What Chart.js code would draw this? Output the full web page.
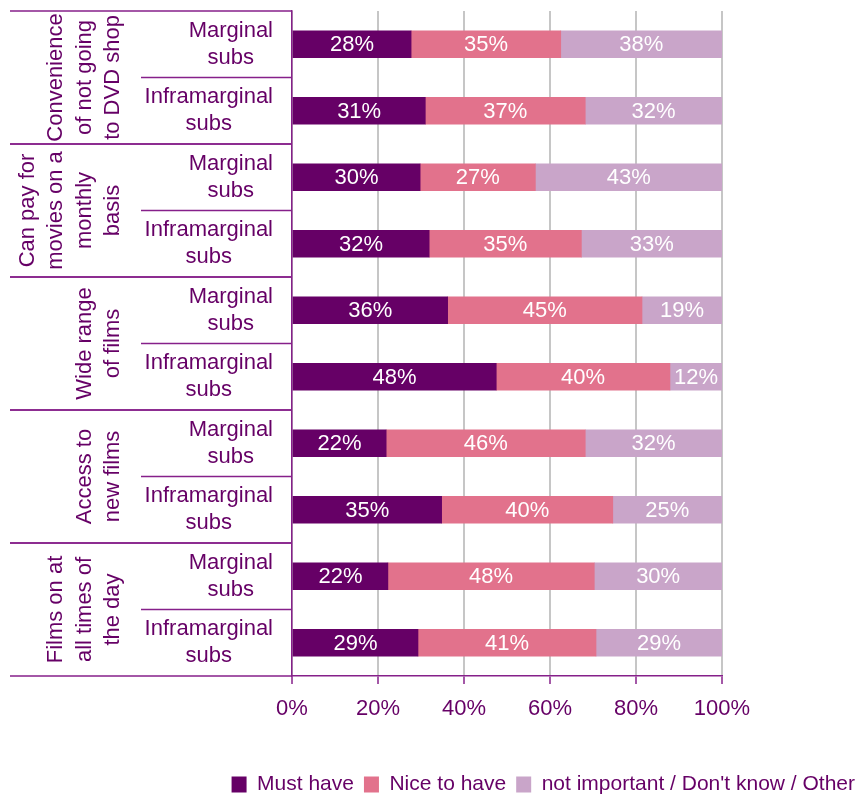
<!DOCTYPE html>
<html>
<head>
<meta charset="utf-8">
<script src="https://cdn.jsdelivr.net/npm/chart.js@4/dist/chart.umd.min.js"></script>
<style>
  html, body { margin: 0; padding: 0; background: #fff; }
  #wrap { width: 859px; height: 797px; }
</style>
</head>
<body>
<div id="wrap"><canvas id="subsChart" width="859" height="797"></canvas></div>
<script>
    // one entry per bar, top to bottom
    var subLabels = [
        ["Marginal", "subs"], ["Inframarginal", "subs"],
        ["Marginal", "subs"], ["Inframarginal", "subs"],
        ["Marginal", "subs"], ["Inframarginal", "subs"],
        ["Marginal", "subs"], ["Inframarginal", "subs"],
        ["Marginal", "subs"], ["Inframarginal", "subs"]
    ];
    var groupLabels = [
        ["Convenience", "of not going", "to DVD shop"],
        ["Can pay for", "movies on a", "monthly", "basis"],
        ["Wide range", "of films"],
        ["Access to", "new films"],
        ["Films on at", "all times of", "the day"]
    ];
    var seriesNames = ["Must have", "Nice to have", "not important / Don't know / Other"];
    var mustHave   = [27.7, 31.0, 29.8, 31.9, 36.2, 47.5, 21.9, 34.8, 22.3, 29.3];
    var niceToHave = [34.8, 37.2, 26.8, 35.4, 45.2, 40.4, 46.3, 39.8, 48.0, 41.4];
    var notImportant = [37.5, 31.8, 43.4, 32.7, 18.6, 12.1, 31.8, 25.4, 29.7, 29.3];
    var xTicks = [0, 20, 40, 60, 80, 100];

    var purple = "#660066";
    var lineCol = "#86208a";
    var fontFam = "'Liberation Sans', Arial, sans-serif";

    // white % labels in the middle of each segment
    var valueLabels = {
        id: "valueLabels",
        afterDatasetsDraw: function (chart) {
            var ctx = chart.ctx;
            ctx.save();
            ctx.fillStyle = "#ffffff";
            ctx.font = "22px " + fontFam;
            ctx.textAlign = "center";
            ctx.textBaseline = "middle";
            chart.data.datasets.forEach(function (ds, i) {
                chart.getDatasetMeta(i).data.forEach(function (bar, j) {
                    ctx.fillText(Math.round(ds.data[j]) + "%", (bar.x + bar.base) / 2, bar.y + 1);
                });
            });
            ctx.restore();
        }
    };

    // category / group labels and separator lines on the left
    var leftLabels = {
        id: "leftLabels",
        afterDraw: function (chart) {
            var ctx = chart.ctx;
            var area = chart.chartArea;
            var yScale = chart.scales.y;
            var catH = (area.bottom - area.top) / subLabels.length;
            ctx.save();
            ctx.strokeStyle = lineCol;
            ctx.lineWidth = 1.5;
            ctx.fillStyle = purple;
            ctx.font = "22px " + fontFam;
            ctx.textAlign = "center";
            ctx.textBaseline = "middle";

            subLabels.forEach(function (lines, i) {
                var cy = yScale.getPixelForValue(i);
                var w = Math.max(ctx.measureText(lines[0]).width, ctx.measureText(lines[1]).width);
                var cx = area.left - 19 - w / 2;
                ctx.fillText(lines[0], cx, cy - 13.5);
                ctx.fillText(lines[1], cx, cy + 13.5);
            });

            groupLabels.forEach(function (lines, g) {
                var top = yScale.getPixelForValue(g * 2) - catH / 2;
                var mid = top + catH;
                var bottom = top + catH * 2;
                ctx.beginPath();
                ctx.moveTo(10, top); ctx.lineTo(area.left, top);
                ctx.moveTo(141, mid); ctx.lineTo(area.left, mid);
                ctx.moveTo(10, bottom); ctx.lineTo(area.left, bottom);
                ctx.stroke();

                var n = lines.length;
                ctx.save();
                ctx.translate(0, mid);
                ctx.rotate(-Math.PI / 2);
                lines.forEach(function (txt, k) {
                    var x = 113 - (n - 1 - k) * 28.5;
                    ctx.fillText(txt, 0, x);
                });
                ctx.restore();
            });
            ctx.restore();
        }
    };

    var config = {
        type: "bar",
        data: {
            labels: subLabels,
            datasets: [
                { label: seriesNames[0], data: mustHave, backgroundColor: "#660066" },
                { label: seriesNames[1], data: niceToHave, backgroundColor: "#e2728c" },
                { label: seriesNames[2], data: notImportant, backgroundColor: "#c9a5c9" }
            ]
        },
        options: {
            indexAxis: "y",
            responsive: false,
            animation: false,
            barThickness: 27,
            layout: { padding: { top: 11, left: 0, right: -6, bottom: -8 } },
            plugins: {
                legend: {
                    position: "bottom",
                    align: "end",
                    labels: {
                        color: purple,
                        boxWidth: 15,
                        boxHeight: 16,
                        padding: 10,
                        font: { family: fontFam, size: 21 }
                    }
                },
                tooltip: { enabled: false }
            },
            scales: {
                x: {
                    stacked: true,
                    min: 0,
                    max: 100,
                    afterBuildTicks: function (scale) {
                        scale.ticks = xTicks.map(function (v) { return { value: v }; });
                    },
                    afterFit: function (scale) { scale.height = 88; },
                    grid: {
                        color: "#c6c6c6",
                        lineWidth: 2,
                        tickColor: lineCol,
                        tickLength: 8,
                        tickWidth: 1.5
                    },
                    border: { color: lineCol, width: 1.5 },
                    ticks: {
                        color: purple,
                        padding: 12,
                        maxRotation: 0,
                        font: { family: fontFam, size: 22 },
                        callback: function (v) { return v + "%"; }
                    }
                },
                y: {
                    stacked: true,
                    afterFit: function (scale) { scale.width = 292; },
                    grid: { display: false },
                    ticks: { display: false },
                    border: { color: lineCol, width: 1.5 }
                },
                spacer: {
                    type: "linear",
                    position: "right",
                    afterFit: function (scale) { scale.width = 143; },
                    grid: { display: false },
                    ticks: { display: false },
                    border: { display: false }
                }
            }
        },
        plugins: [valueLabels, leftLabels]
    };

    var subsChart = new Chart(document.getElementById("subsChart"), config);
</script>
</body>
</html>
